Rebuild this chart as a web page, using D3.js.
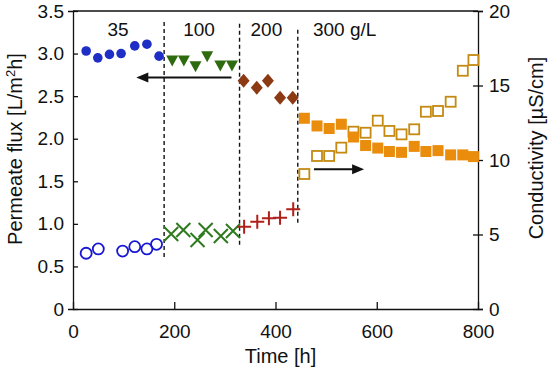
<!DOCTYPE html>
<html><head><meta charset="utf-8">
<script src="https://cdn.jsdelivr.net/npm/d3@7"></script>
<style>body{margin:0;background:#fff}svg{display:block}text{font-family:"Liberation Sans",Arial,sans-serif;fill:#111}</style>
</head><body><svg id="c" width="550" height="371"></svg>
<script>
// ---- data ----
const fluxT35 = [26, 49, 72, 95, 122, 146, 170];
const flux35 = [3.03, 2.95, 2.99, 3.00, 3.09, 3.11, 2.97];
const condT35 = [26, 50, 98, 122, 146, 165];
const cond35 = [3.74, 4.03, 3.89, 4.18, 4.03, 4.34];

const fluxT100 = [196, 219, 242, 265, 291, 314];
const flux100 = [2.92, 2.92, 2.85, 2.97, 2.86, 2.86];
const condT100 = [194, 218, 246, 262, 292, 316];
const cond100 = [5.03, 5.30, 4.63, 5.30, 4.90, 5.23];

const fluxT200 = [337, 363, 385, 409, 434];
const flux200 = [2.68, 2.60, 2.68, 2.48, 2.48];
const condT200 = [338, 364, 387, 409, 435];
const cond200 = [5.52, 5.86, 6.09, 6.13, 6.69];

const t300 = [457, 482, 506, 530, 554, 578, 602, 625, 649, 674, 697, 721, 746, 770, 791];
const flux300 = [2.24, 2.15, 2.12, 2.17, 2.02, 1.92, 1.89, 1.85, 1.84, 1.91, 1.85, 1.86, 1.81, 1.81, 1.79];
const cond300 = [9.06, 10.27, 10.27, 10.83, 11.90, 11.83, 12.64, 11.95, 11.72, 12.06, 13.24, 13.29, 13.91, 15.99, 16.71];

const phaseBounds = [180, 329, 444];
const boundTop = [3.37, 3.35, 3.28];
const boundBottom = [0.60, 0.73, 1.01];
const phaseLabels = ["35", "100", "200", "300 g/L"];
const phaseLabelT = [89, 249, 382, 474];

const xTicks = [0, 200, 400, 600, 800];
const yLTicks = [0, 0.5, 1.0, 1.5, 2.0, 2.5, 3.0, 3.5];
const yRTicks = [0, 5, 10, 15, 20];

// ---- scales ----
const svg = d3.select("#c");
const X0 = 73, X1 = 478, Y0 = 309, Y1 = 11;
const x = d3.scaleLinear().domain([0, 800]).range([X0, X1]);
const yL = d3.scaleLinear().domain([0, 3.5]).range([Y0, Y1]);
const yR = d3.scaleLinear().domain([0, 20]).range([Y0, Y1]);

// frame top
svg.append("line").attr("x1", X0).attr("x2", X1).attr("y1", Y1).attr("y2", Y1).attr("stroke", "#111").attr("stroke-width", 1.3);

// axes
const fs = "19px";
const gx = svg.append("g").attr("transform", `translate(0,${Y0})`)
  .call(d3.axisBottom(x).tickValues(xTicks).tickSize(0).tickPadding(16).tickFormat(d3.format("d")));
gx.selectAll(".tick").append("line").attr("y1", 0).attr("y2", -7).attr("stroke", "#111").attr("stroke-width", 1.3);
const gl = svg.append("g").attr("transform", `translate(${X0},0)`)
  .call(d3.axisLeft(yL).tickValues(yLTicks).tickSize(5).tickPadding(4).tickFormat(d => d === 0 ? "0" : d3.format(".1f")(d)));
gl.selectAll(".tick line").attr("x2", 5);
const gr = svg.append("g").attr("transform", `translate(${X1},0)`)
  .call(d3.axisRight(yR).tickValues(yRTicks).tickSize(5).tickPadding(6).tickFormat(d3.format("d")));
gr.selectAll(".tick line").attr("x1", -5);
[gx, gl, gr].forEach(g => {
  g.select(".domain").attr("stroke", "#111").attr("stroke-width", 1.3);
  g.selectAll(".tick line").attr("stroke", "#111").attr("stroke-width", 1.3);
  g.selectAll("text").attr("font-size", fs).attr("fill", "#111").style("font-family", '"Liberation Sans",Arial,sans-serif');
});

// titles
svg.append("text").attr("x", (X0 + X1) / 2 + 5).attr("y", 363).attr("text-anchor", "middle").attr("font-size", "20px").text("Time [h]");
const lt = svg.append("text").attr("transform", "translate(22,149) rotate(-90)").attr("text-anchor", "middle").attr("font-size", "20px");
lt.append("tspan").text("Permeate flux [L/m");
lt.append("tspan").attr("font-size", "13px").attr("dy", -7).text("2");
lt.append("tspan").attr("dy", 7).text("h]");
svg.append("text").attr("transform", "translate(543,148) rotate(-90)").attr("text-anchor", "middle").attr("font-size", "20px").text("Conductivity [\u00B5S/cm]");

// phase dividers
phaseBounds.forEach((t, i) => {
  svg.append("line").attr("x1", x(t)).attr("x2", x(t)).attr("y1", yL(boundTop[i])).attr("y2", yL(boundBottom[i]))
    .attr("stroke", "#111").attr("stroke-width", 1.4).attr("stroke-dasharray", "4,3");
});
phaseLabels.forEach((s, i) => {
  svg.append("text").attr("x", x(phaseLabelT[i])).attr("y", 36).attr("text-anchor", i === 3 ? "start" : "middle")
    .attr("font-size", fs).text(s);
});

// arrows
function arrow(xa, ya, xb, yb) {
  svg.append("line").attr("x1", xa).attr("y1", ya).attr("x2", xb + (xb > xa ? -8 : 8)).attr("y2", yb).attr("stroke", "#111").attr("stroke-width", 2);
  const d = xb > xa ? -1 : 1;
  svg.append("path").attr("d", `M${xb},${yb} L${xb + d * 12},${yb - 5} L${xb + d * 12},${yb + 5} Z`).attr("fill", "#111");
}
arrow(x(313), yL(2.72), x(125), yL(2.72));
arrow(x(476), yR(9.38), x(575), yR(9.38));

// marks
const g = svg.append("g");
const zip = (a, b) => a.map((v, i) => [v, b[i]]);

// hollow squares (conductivity 300)
g.selectAll(".hs").data(zip(t300, cond300)).join("rect")
  .attr("x", d => x(d[0]) - 5).attr("y", d => yR(d[1]) - 5).attr("width", 10).attr("height", 10)
  .attr("fill", "none").attr("stroke", "#C48A12").attr("stroke-width", 1.8);
// filled squares (flux 300)
g.selectAll(".fs").data(zip(t300, flux300)).join("rect")
  .attr("x", d => x(d[0]) - 5.5).attr("y", d => yL(d[1]) - 5.5).attr("width", 11).attr("height", 11)
  .attr("fill", "#EA8C0C");

// blue filled circles
g.selectAll(".bc").data(zip(fluxT35, flux35)).join("circle")
  .attr("cx", d => x(d[0])).attr("cy", d => yL(d[1])).attr("r", 4.8).attr("fill", "#1F2EC4");
// blue hollow circles
g.selectAll(".bo").data(zip(condT35, cond35)).join("circle")
  .attr("cx", d => x(d[0])).attr("cy", d => yR(d[1])).attr("r", 5.5).attr("fill", "none").attr("stroke", "#1818D2").attr("stroke-width", 1.8);

// green triangles (down)
g.selectAll(".gt").data(zip(fluxT100, flux100)).join("path")
  .attr("d", d => { const cx = x(d[0]), cy = yL(d[1]); return `M${cx - 6},${cy - 5} L${cx + 6},${cy - 5} L${cx},${cy + 6} Z`; })
  .attr("fill", "#2E6A0E");
// green X
g.selectAll(".gx").data(zip(condT100, cond100)).join("path")
  .attr("d", d => { const cx = x(d[0]), cy = yR(d[1]); return `M${cx - 7},${cy - 7} L${cx + 7},${cy + 7} M${cx - 7},${cy + 7} L${cx + 7},${cy - 7}`; })
  .attr("stroke", "#2F7A1E").attr("stroke-width", 2).attr("fill", "none");

// brown diamonds
g.selectAll(".bd").data(zip(fluxT200, flux200)).join("path")
  .attr("d", d => { const cx = x(d[0]), cy = yL(d[1]); return `M${cx},${cy - 7} L${cx + 6},${cy} L${cx},${cy + 7} L${cx - 6},${cy} Z`; })
  .attr("fill", "#8B3A14");
// red plus
g.selectAll(".rp").data(zip(condT200, cond200)).join("path")
  .attr("d", d => { const cx = x(d[0]), cy = yR(d[1]); return `M${cx - 7},${cy} L${cx + 7},${cy} M${cx},${cy - 7} L${cx},${cy + 7}`; })
  .attr("stroke", "#B0201A").attr("stroke-width", 2).attr("fill", "none");
</script></body></html>
